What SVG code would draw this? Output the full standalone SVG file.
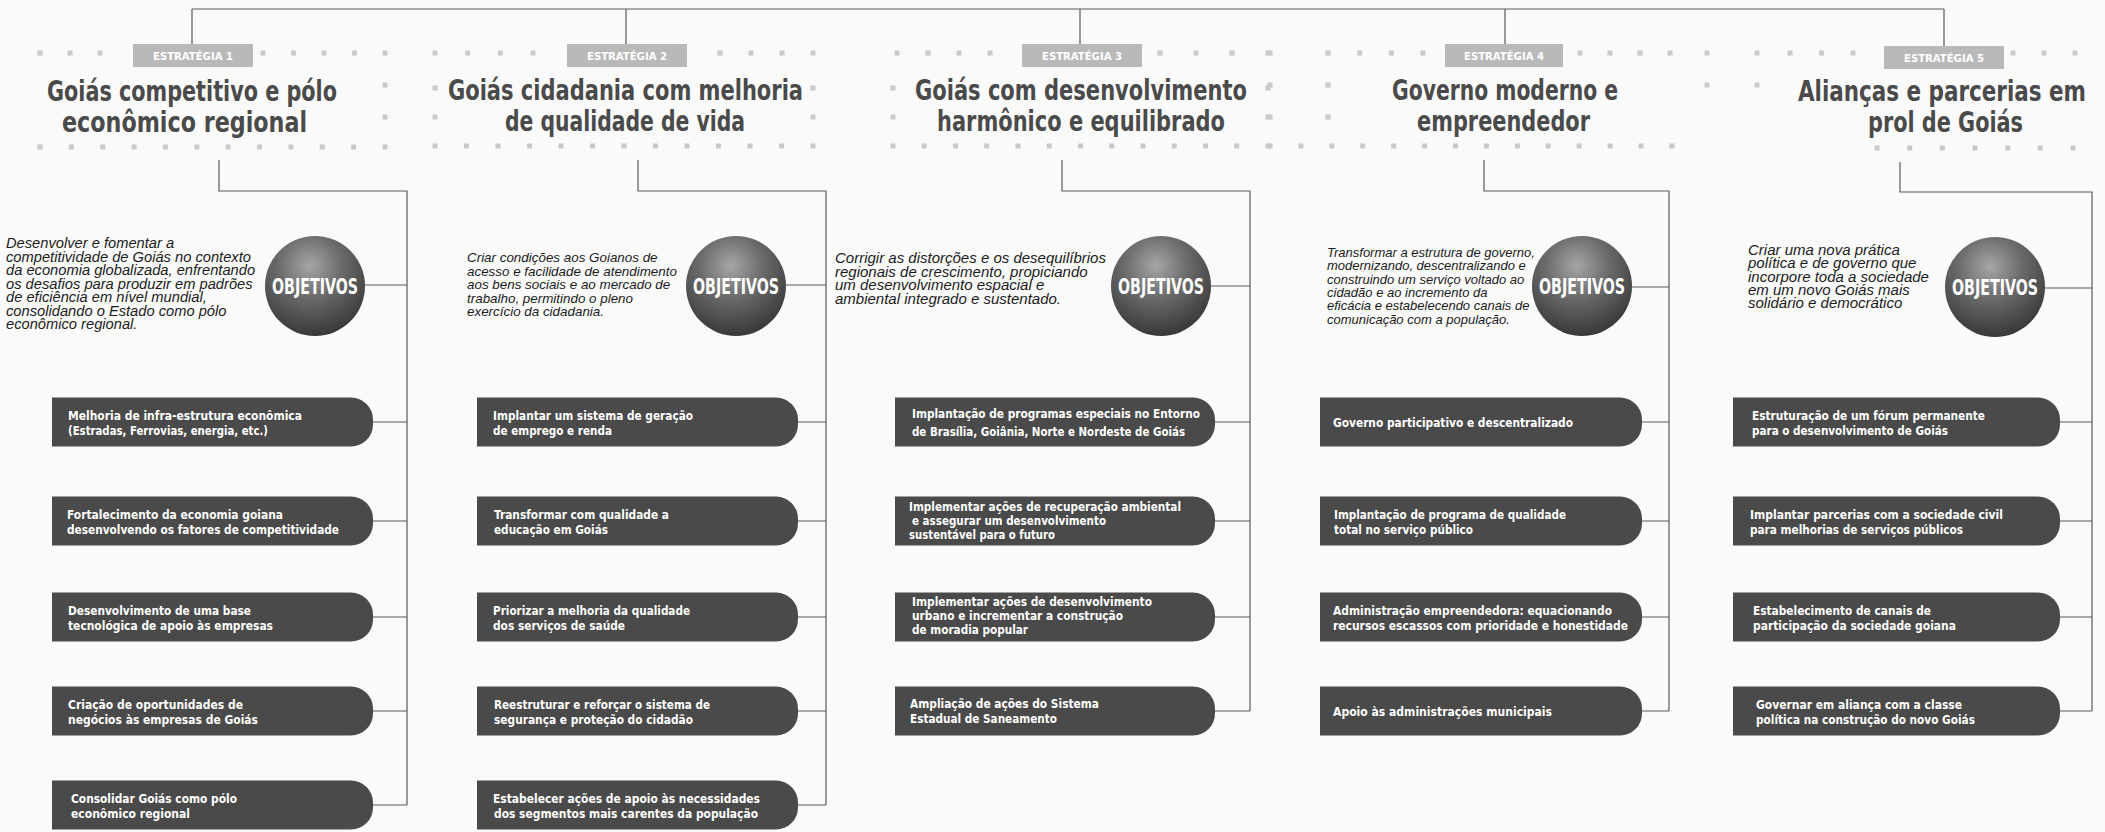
<svg xmlns="http://www.w3.org/2000/svg" width="2105" height="832" viewBox="0 0 2105 832">
<defs>
<radialGradient id="sph" cx="45%" cy="30%" r="72%">
<stop offset="0" stop-color="#a6a6a6"/>
<stop offset="0.45" stop-color="#6a6a6a"/>
<stop offset="1" stop-color="#363636"/>
</radialGradient>
<style>
.bg{fill:#fafafa}
.dots{stroke:#c9c9c9;stroke-width:5;fill:none}
.badge{fill:#b9b9b9}
.badge-t{font-family:"Liberation Sans Narrow","DejaVu Sans Condensed","Liberation Sans",sans-serif;font-weight:bold;font-size:11px;fill:#ffffff;text-anchor:middle}
.title{font-family:"Liberation Sans Narrow","DejaVu Sans Condensed","Liberation Sans",sans-serif;font-weight:bold;font-size:28px;fill:#4a4a4a}
.desc{font-family:"Liberation Sans",Arial,sans-serif;font-style:italic;fill:#1a1a1a}
.sphere{fill:url(#sph)}
.obj{font-family:"Liberation Sans Narrow","DejaVu Sans Condensed","Liberation Sans",sans-serif;font-weight:bold;font-size:22px;fill:#ffffff;text-anchor:middle}
.item{fill:#4a4a4a}
.it{font-family:"Liberation Sans Narrow","DejaVu Sans Condensed","Liberation Sans",sans-serif;font-weight:bold;font-size:13px;fill:#ffffff}
.conn{stroke:#5a5a5a;stroke-width:1.2;fill:none}
</style>
</defs>
<rect class="bg" x="0" y="0" width="2105" height="832"/>

<g id="connectors">
<path class="conn" d="M192 9H1944M192 9V44M626 9V44M1080 9V44M1505 9V44M1944 9V46"/>
<path class="conn" d="M219 160V191H407V805M364 285H407M373 422H407M373 521H407M373 617H407M373 711H407M373 805H407"/>
<path class="conn" d="M638 160V191H826V805M786 285H826M798 422H826M798 521H826M798 617H826M798 711H826M798 805H826"/>
<path class="conn" d="M1062 160V191H1250V711M1211 286H1250M1215 422H1250M1215 521H1250M1215 617H1250M1215 711H1250"/>
<path class="conn" d="M1484 160V191H1669V711M1632 287H1669M1642 422H1669M1642 521H1669M1642 617H1669M1642 711H1669"/>
<path class="conn" d="M1900 162V192H2092V711M2045 288H2092M2060 422H2092M2060 521H2092M2060 617H2092M2060 711H2092"/>
</g>

<g id="estrategia1">
<line class="dots" x1="37.5" y1="53" x2="102.5" y2="53" stroke-dasharray="5 25"/>
<line class="dots" x1="260.5" y1="53" x2="387.5" y2="53" stroke-dasharray="5 25.5"/>
<line class="dots" x1="385" y1="82.5" x2="385" y2="119.5" stroke-dasharray="5 27"/>
<line class="dots" x1="37.5" y1="147" x2="387.5" y2="147" stroke-dasharray="5 26.36"/>
<rect class="badge" x="133" y="44" width="120" height="23"/>
<text class="badge-t" x="193" y="60" textLength="80" lengthAdjust="spacingAndGlyphs">ESTRATÉGIA 1</text>
<text class="title" x="47" y="101" textLength="290" lengthAdjust="spacingAndGlyphs">Goiás competitivo e pólo</text>
<text class="title" x="62" y="132" textLength="245" lengthAdjust="spacingAndGlyphs">econômico regional</text>
</g>

<g id="objetivos1">
<text class="desc" font-size="14.7">
<tspan x="6" y="248">Desenvolver e fomentar a</tspan>
<tspan x="6" y="261.5">competitividade de Goiás no contexto</tspan>
<tspan x="6" y="275">da economia globalizada, enfrentando</tspan>
<tspan x="6" y="288.5">os desafios para produzir em padrões</tspan>
<tspan x="6" y="302">de eficiência em nível mundial,</tspan>
<tspan x="6" y="315.5">consolidando o Estado como pólo</tspan>
<tspan x="6" y="329">econômico regional.</tspan>
</text>
<circle class="sphere" cx="315" cy="286" r="50"/>
<text class="obj" x="315" y="294" textLength="86" lengthAdjust="spacingAndGlyphs">OBJETIVOS</text>
</g>

<g id="e1-item1"><path class="item" d="M52 397.5H351A22 22 0 0 1 373 419.5V424.5A22 22 0 0 1 351 446.5H52Z"/>
<text class="it" x="68" y="420" textLength="234" lengthAdjust="spacingAndGlyphs">Melhoria de infra-estrutura econômica</text>
<text class="it" x="68" y="435" textLength="200" lengthAdjust="spacingAndGlyphs">(Estradas, Ferrovias, energia, etc.)</text></g>
<g id="e1-item2"><path class="item" d="M52 496.5H351A22 22 0 0 1 373 518.5V523.5A22 22 0 0 1 351 545.5H52Z"/>
<text class="it" x="67" y="519" textLength="216" lengthAdjust="spacingAndGlyphs">Fortalecimento da economia goiana</text>
<text class="it" x="67" y="534" textLength="272" lengthAdjust="spacingAndGlyphs">desenvolvendo os fatores de competitividade</text></g>
<g id="e1-item3"><path class="item" d="M52 592.5H351A22 22 0 0 1 373 614.5V619.5A22 22 0 0 1 351 641.5H52Z"/>
<text class="it" x="68" y="615" textLength="183" lengthAdjust="spacingAndGlyphs">Desenvolvimento de uma base</text>
<text class="it" x="68" y="630" textLength="205" lengthAdjust="spacingAndGlyphs">tecnológica de apoio às empresas</text></g>
<g id="e1-item4"><path class="item" d="M52 686.5H351A22 22 0 0 1 373 708.5V713.5A22 22 0 0 1 351 735.5H52Z"/>
<text class="it" x="68" y="709" textLength="175" lengthAdjust="spacingAndGlyphs">Criação de oportunidades de</text>
<text class="it" x="68" y="724" textLength="190" lengthAdjust="spacingAndGlyphs">negócios às empresas de Goiás</text></g>
<g id="e1-item5"><path class="item" d="M52 780.5H351A22 22 0 0 1 373 802.5V807.5A22 22 0 0 1 351 829.5H52Z"/>
<text class="it" x="71" y="803" textLength="166" lengthAdjust="spacingAndGlyphs">Consolidar Goiás como pólo</text>
<text class="it" x="71" y="818" textLength="119" lengthAdjust="spacingAndGlyphs">econômico regional</text></g>

<g id="estrategia2">
<line class="dots" x1="432.5" y1="53" x2="535.5" y2="53" stroke-dasharray="5 27.7"/>
<line class="dots" x1="717.5" y1="53" x2="815.5" y2="53" stroke-dasharray="5 26"/>
<line class="dots" x1="435" y1="85.5" x2="435" y2="119.5" stroke-dasharray="5 24"/>
<line class="dots" x1="813" y1="85.5" x2="813" y2="119.5" stroke-dasharray="5 24"/>
<line class="dots" x1="432.5" y1="146" x2="815.5" y2="146" stroke-dasharray="5 26.5"/>
<rect class="badge" x="567" y="44" width="120" height="23"/>
<text class="badge-t" x="627" y="60" textLength="80" lengthAdjust="spacingAndGlyphs">ESTRATÉGIA 2</text>
<text class="title" x="448" y="100" textLength="355" lengthAdjust="spacingAndGlyphs">Goiás cidadania com melhoria</text>
<text class="title" x="505" y="131" textLength="240" lengthAdjust="spacingAndGlyphs">de qualidade de vida</text>
</g>

<g id="objetivos2">
<text class="desc" font-size="13.4">
<tspan x="467" y="262">Criar condições aos Goianos de</tspan>
<tspan x="467" y="275.5">acesso e facilidade de atendimento</tspan>
<tspan x="467" y="289">aos bens sociais e ao mercado de</tspan>
<tspan x="467" y="302.5">trabalho, permitindo o pleno</tspan>
<tspan x="467" y="316">exercício da cidadania.</tspan>
</text>
<circle class="sphere" cx="736" cy="286" r="50"/>
<text class="obj" x="736" y="294" textLength="86" lengthAdjust="spacingAndGlyphs">OBJETIVOS</text>
</g>

<g id="e2-item1"><path class="item" d="M477 397.5H776A22 22 0 0 1 798 419.5V424.5A22 22 0 0 1 776 446.5H477Z"/>
<text class="it" x="493" y="420" textLength="200" lengthAdjust="spacingAndGlyphs">Implantar um sistema de geração</text>
<text class="it" x="493" y="435" textLength="119" lengthAdjust="spacingAndGlyphs">de emprego e renda</text></g>
<g id="e2-item2"><path class="item" d="M477 496.5H776A22 22 0 0 1 798 518.5V523.5A22 22 0 0 1 776 545.5H477Z"/>
<text class="it" x="494" y="519" textLength="175" lengthAdjust="spacingAndGlyphs">Transformar com qualidade a</text>
<text class="it" x="494" y="534" textLength="114" lengthAdjust="spacingAndGlyphs">educação em Goiás</text></g>
<g id="e2-item3"><path class="item" d="M477 592.5H776A22 22 0 0 1 798 614.5V619.5A22 22 0 0 1 776 641.5H477Z"/>
<text class="it" x="493" y="615" textLength="197" lengthAdjust="spacingAndGlyphs">Priorizar a melhoria da qualidade</text>
<text class="it" x="493" y="630" textLength="132" lengthAdjust="spacingAndGlyphs">dos serviços de saúde</text></g>
<g id="e2-item4"><path class="item" d="M477 686.5H776A22 22 0 0 1 798 708.5V713.5A22 22 0 0 1 776 735.5H477Z"/>
<text class="it" x="494" y="709" textLength="216" lengthAdjust="spacingAndGlyphs">Reestruturar e reforçar o sistema de</text>
<text class="it" x="494" y="724" textLength="199" lengthAdjust="spacingAndGlyphs">segurança e proteção do cidadão</text></g>
<g id="e2-item5"><path class="item" d="M477 780.5H776A22 22 0 0 1 798 802.5V807.5A22 22 0 0 1 776 829.5H477Z"/>
<text class="it" x="493" y="803" textLength="267" lengthAdjust="spacingAndGlyphs">Estabelecer ações de apoio às necessidades</text>
<text class="it" x="494" y="818" textLength="264" lengthAdjust="spacingAndGlyphs">dos segmentos mais carentes da população</text></g>

<g id="estrategia3">
<line class="dots" x1="894.5" y1="53" x2="992.5" y2="53" stroke-dasharray="5 26"/>
<line class="dots" x1="1157.5" y1="53" x2="1270.5" y2="53" stroke-dasharray="5 31"/>
<line class="dots" x1="893" y1="85.5" x2="893" y2="119.5" stroke-dasharray="5 24"/>
<line class="dots" x1="1268" y1="85.5" x2="1268" y2="119.5" stroke-dasharray="5 24"/>
<line class="dots" x1="890.5" y1="146" x2="1270.5" y2="146" stroke-dasharray="5 26.25"/>
<rect class="badge" x="1022" y="44" width="120" height="23"/>
<text class="badge-t" x="1082" y="60" textLength="80" lengthAdjust="spacingAndGlyphs">ESTRATÉGIA 3</text>
<text class="title" x="915" y="100" textLength="332" lengthAdjust="spacingAndGlyphs">Goiás com desenvolvimento</text>
<text class="title" x="937" y="131" textLength="288" lengthAdjust="spacingAndGlyphs">harmônico e equilibrado</text>
</g>

<g id="objetivos3">
<text class="desc" font-size="15">
<tspan x="835" y="263">Corrigir as distorções e os desequilíbrios</tspan>
<tspan x="835" y="276.5">regionais de crescimento, propiciando</tspan>
<tspan x="835" y="290">um desenvolvimento espacial e</tspan>
<tspan x="835" y="303.5">ambiental integrado e sustentado.</tspan>
</text>
<circle class="sphere" cx="1161" cy="286" r="50"/>
<text class="obj" x="1161" y="294" textLength="86" lengthAdjust="spacingAndGlyphs">OBJETIVOS</text>
</g>

<g id="e3-item1"><path class="item" d="M895 397.5H1193A22 22 0 0 1 1215 419.5V424.5A22 22 0 0 1 1193 446.5H895Z"/>
<text class="it" x="912" y="418" textLength="288" lengthAdjust="spacingAndGlyphs">Implantação de programas especiais no Entorno</text>
<text class="it" x="912" y="436" textLength="273" lengthAdjust="spacingAndGlyphs">de Brasília, Goiânia, Norte e Nordeste de Goiás</text></g>
<g id="e3-item2"><path class="item" d="M895 496.5H1193A22 22 0 0 1 1215 518.5V523.5A22 22 0 0 1 1193 545.5H895Z"/>
<text class="it" x="909" y="511" textLength="272" lengthAdjust="spacingAndGlyphs" font-size="12.5">Implementar ações de recuperação ambiental</text>
<text class="it" x="912" y="525" textLength="194" lengthAdjust="spacingAndGlyphs" font-size="12.5">e assegurar um desenvolvimento</text>
<text class="it" x="909" y="539" textLength="146" lengthAdjust="spacingAndGlyphs" font-size="12.5">sustentável para o futuro</text></g>
<g id="e3-item3"><path class="item" d="M895 592.5H1193A22 22 0 0 1 1215 614.5V619.5A22 22 0 0 1 1193 641.5H895Z"/>
<text class="it" x="912" y="606" textLength="240" lengthAdjust="spacingAndGlyphs" font-size="12.5">Implementar ações de desenvolvimento</text>
<text class="it" x="912" y="620" textLength="211" lengthAdjust="spacingAndGlyphs" font-size="12.5">urbano e incrementar a construção</text>
<text class="it" x="912" y="634" textLength="116" lengthAdjust="spacingAndGlyphs" font-size="12.5">de moradia popular</text></g>
<g id="e3-item4"><path class="item" d="M895 686.5H1193A22 22 0 0 1 1215 708.5V713.5A22 22 0 0 1 1193 735.5H895Z"/>
<text class="it" x="910" y="708" textLength="189" lengthAdjust="spacingAndGlyphs">Ampliação de ações do Sistema</text>
<text class="it" x="910" y="723" textLength="147" lengthAdjust="spacingAndGlyphs">Estadual de Saneamento</text></g>

<g id="estrategia4">
<line class="dots" x1="1270" y1="50.5" x2="1270" y2="119.5" stroke-dasharray="5 27"/>
<line class="dots" x1="1328" y1="82.5" x2="1328" y2="119.5" stroke-dasharray="5 27"/>
<line class="dots" x1="1325.5" y1="53" x2="1425.5" y2="53" stroke-dasharray="5 26.67"/>
<line class="dots" x1="1577.5" y1="53" x2="1672.5" y2="53" stroke-dasharray="5 25"/>
<line class="dots" x1="1267.5" y1="146" x2="1674.5" y2="146" stroke-dasharray="5 25.92"/>
<rect class="badge" x="1445" y="44" width="118" height="23"/>
<text class="badge-t" x="1504" y="60" textLength="80" lengthAdjust="spacingAndGlyphs">ESTRATÉGIA 4</text>
<text class="title" x="1392" y="100" textLength="226" lengthAdjust="spacingAndGlyphs">Governo moderno e</text>
<text class="title" x="1417" y="131" textLength="173" lengthAdjust="spacingAndGlyphs">empreendedor</text>
</g>

<g id="objetivos4">
<text class="desc" font-size="13">
<tspan x="1327" y="257">Transformar a estrutura de governo,</tspan>
<tspan x="1327" y="270.3">modernizando, descentralizando e</tspan>
<tspan x="1327" y="283.6">construindo um serviço voltado ao</tspan>
<tspan x="1327" y="296.9">cidadão e ao incremento da</tspan>
<tspan x="1327" y="310.2">eficácia e estabelecendo canais de</tspan>
<tspan x="1327" y="323.5">comunicação com a população.</tspan>
</text>
<circle class="sphere" cx="1582" cy="286" r="50"/>
<text class="obj" x="1582" y="294" textLength="86" lengthAdjust="spacingAndGlyphs">OBJETIVOS</text>
</g>

<g id="e4-item1"><path class="item" d="M1320 397.5H1620A22 22 0 0 1 1642 419.5V424.5A22 22 0 0 1 1620 446.5H1320Z"/>
<text class="it" x="1333" y="427" textLength="240" lengthAdjust="spacingAndGlyphs">Governo participativo e descentralizado</text></g>
<g id="e4-item2"><path class="item" d="M1320 496.5H1620A22 22 0 0 1 1642 518.5V523.5A22 22 0 0 1 1620 545.5H1320Z"/>
<text class="it" x="1334" y="519" textLength="232" lengthAdjust="spacingAndGlyphs">Implantação de programa de qualidade</text>
<text class="it" x="1334" y="534" textLength="139" lengthAdjust="spacingAndGlyphs">total no serviço público</text></g>
<g id="e4-item3"><path class="item" d="M1320 592.5H1620A22 22 0 0 1 1642 614.5V619.5A22 22 0 0 1 1620 641.5H1320Z"/>
<text class="it" x="1333" y="615" textLength="279" lengthAdjust="spacingAndGlyphs">Administração empreendedora: equacionando</text>
<text class="it" x="1333" y="630" textLength="295" lengthAdjust="spacingAndGlyphs">recursos escassos com prioridade e honestidade</text></g>
<g id="e4-item4"><path class="item" d="M1320 686.5H1620A22 22 0 0 1 1642 708.5V713.5A22 22 0 0 1 1620 735.5H1320Z"/>
<text class="it" x="1333" y="716" textLength="219" lengthAdjust="spacingAndGlyphs">Apoio às administrações municipais</text></g>

<g id="estrategia5">
<line class="dots" x1="1707" y1="50.5" x2="1707" y2="87.5" stroke-dasharray="5 27"/>
<line class="dots" x1="1757" y1="50.5" x2="1757" y2="87.5" stroke-dasharray="5 27"/>
<line class="dots" x1="1787.5" y1="53" x2="1855.5" y2="53" stroke-dasharray="5 26.5"/>
<line class="dots" x1="2010.5" y1="53" x2="2077.5" y2="53" stroke-dasharray="5 26"/>
<line class="dots" x1="1874.5" y1="148" x2="2075.5" y2="148" stroke-dasharray="5 27.67"/>
<rect class="badge" x="1884" y="46" width="120" height="23"/>
<text class="badge-t" x="1944" y="62" textLength="80" lengthAdjust="spacingAndGlyphs">ESTRATÉGIA 5</text>
<text class="title" x="1798" y="101" font-size="22" textLength="288" lengthAdjust="spacingAndGlyphs">Alianças e parcerias em</text>
<text class="title" x="1868" y="132" textLength="155" lengthAdjust="spacingAndGlyphs">prol de Goiás</text>
</g>

<g id="objetivos5">
<text class="desc" font-size="15">
<tspan x="1748" y="255">Criar uma nova prática</tspan>
<tspan x="1748" y="268.3">política e de governo que</tspan>
<tspan x="1748" y="281.6">incorpore toda a sociedade</tspan>
<tspan x="1748" y="294.9">em um novo Goiás mais</tspan>
<tspan x="1748" y="308.2">solidário e democrático</tspan>
</text>
<circle class="sphere" cx="1995" cy="287" r="50"/>
<text class="obj" x="1995" y="295" textLength="86" lengthAdjust="spacingAndGlyphs">OBJETIVOS</text>
</g>

<g id="e5-item1"><path class="item" d="M1733 397.5H2038A22 22 0 0 1 2060 419.5V424.5A22 22 0 0 1 2038 446.5H1733Z"/>
<text class="it" x="1752" y="420" textLength="233" lengthAdjust="spacingAndGlyphs">Estruturação de um fórum permanente</text>
<text class="it" x="1752" y="435" textLength="196" lengthAdjust="spacingAndGlyphs">para o desenvolvimento de Goiás</text></g>
<g id="e5-item2"><path class="item" d="M1733 496.5H2038A22 22 0 0 1 2060 518.5V523.5A22 22 0 0 1 2038 545.5H1733Z"/>
<text class="it" x="1750" y="519" textLength="253" lengthAdjust="spacingAndGlyphs">Implantar parcerias com a sociedade civil</text>
<text class="it" x="1750" y="534" textLength="213" lengthAdjust="spacingAndGlyphs">para melhorias de serviços públicos</text></g>
<g id="e5-item3"><path class="item" d="M1733 592.5H2038A22 22 0 0 1 2060 614.5V619.5A22 22 0 0 1 2038 641.5H1733Z"/>
<text class="it" x="1753" y="615" textLength="178" lengthAdjust="spacingAndGlyphs">Estabelecimento de canais de</text>
<text class="it" x="1753" y="630" textLength="203" lengthAdjust="spacingAndGlyphs">participação da sociedade goiana</text></g>
<g id="e5-item4"><path class="item" d="M1733 686.5H2038A22 22 0 0 1 2060 708.5V713.5A22 22 0 0 1 2038 735.5H1733Z"/>
<text class="it" x="1756" y="709" textLength="206" lengthAdjust="spacingAndGlyphs">Governar em aliança com a classe</text>
<text class="it" x="1756" y="724" textLength="219" lengthAdjust="spacingAndGlyphs">política na construção do novo Goiás</text></g>
</svg>
